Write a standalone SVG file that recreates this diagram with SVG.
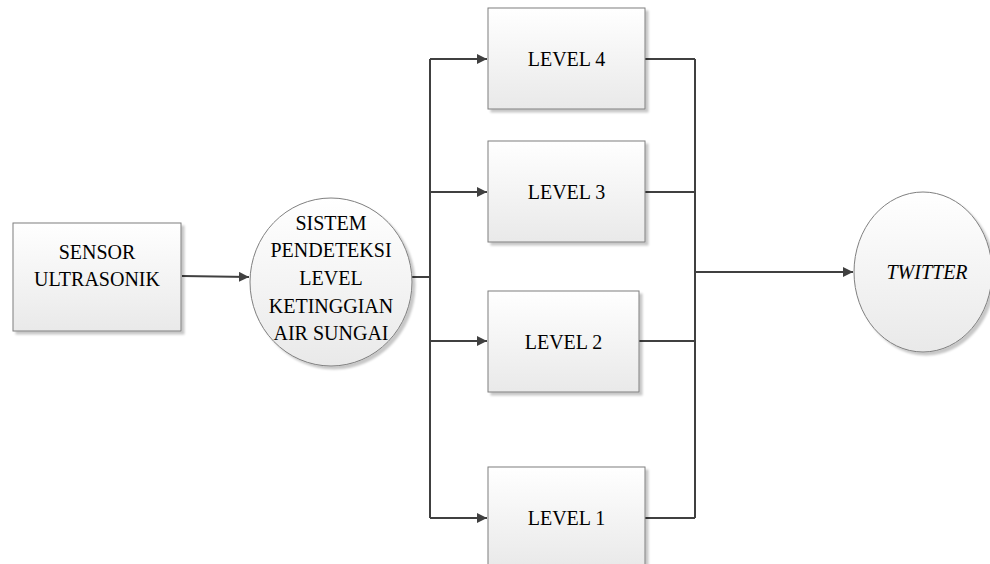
<svg xmlns="http://www.w3.org/2000/svg" width="990" height="564" viewBox="0 0 990 564">
<style>
.box{stroke:#7f7f7f;stroke-width:1;fill:url(#g);filter:url(#sh)}
.t{font-family:"Liberation Serif","Times New Roman",serif;font-size:20px;fill:#000;text-anchor:middle}
.c{fill:none;stroke:#404040;stroke-width:2}
</style>
<defs>
<linearGradient id="g" x1="0" y1="0" x2="0" y2="1">
<stop offset="0" stop-color="#ffffff"/>
<stop offset="1" stop-color="#e9e9e9"/>
</linearGradient>
<filter id="sh" x="-10%" y="-10%" width="130%" height="130%">
<feDropShadow dx="3" dy="3" stdDeviation="1.2" flood-color="#000" flood-opacity="0.22"/>
</filter>
<marker id="ah" viewBox="0 0 10 10" refX="10" refY="5" markerWidth="10" markerHeight="10" markerUnits="userSpaceOnUse" orient="auto">
<path d="M0,0 L10,5 L0,10 z" fill="#404040"/>
</marker>
</defs>
<g id="connectors">
<path class="c" d="M182,276 L249,277" marker-end="url(#ah)"/>
<path class="c" d="M412,277 L430,277"/>
<path class="c" d="M430,59 L430,518"/>
<path class="c" d="M430,59 L487,59" marker-end="url(#ah)"/>
<path class="c" d="M430,192 L487,192" marker-end="url(#ah)"/>
<path class="c" d="M430,341 L487,341" marker-end="url(#ah)"/>
<path class="c" d="M430,518 L487,518" marker-end="url(#ah)"/>
<path class="c" d="M645,59 L695,59"/>
<path class="c" d="M645,192 L695,192"/>
<path class="c" d="M639,341 L695,341"/>
<path class="c" d="M645,518 L695,518"/>
<path class="c" d="M695,59 L695,518"/>
<path class="c" d="M695,272 L853,272" marker-end="url(#ah)"/>
</g>
<g id="sensor">
<rect class="box" x="13" y="223" width="168" height="108"/>
<text class="t" x="97" y="259">SENSOR</text>
<text class="t" x="97" y="285.5">ULTRASONIK</text>
</g>
<g id="sistem">
<ellipse class="box" cx="331" cy="282" rx="81" ry="84"/>
<text class="t" x="331" y="230">SISTEM</text>
<text class="t" x="331" y="257">PENDETEKSI</text>
<text class="t" x="331" y="285">LEVEL</text>
<text class="t" x="331" y="312.5">KETINGGIAN</text>
<text class="t" x="331" y="340">AIR SUNGAI</text>
</g>
<g id="level4">
<rect class="box" x="488" y="8" width="157" height="101"/>
<text class="t" x="566.5" y="66">LEVEL 4</text>
</g>
<g id="level3">
<rect class="box" x="488" y="141" width="157" height="101"/>
<text class="t" x="566.5" y="199">LEVEL 3</text>
</g>
<g id="level2">
<rect class="box" x="488" y="291" width="151" height="101"/>
<text class="t" x="563.5" y="348.5">LEVEL 2</text>
</g>
<g id="level1">
<rect class="box" x="488" y="467" width="157" height="101"/>
<text class="t" x="566.5" y="525">LEVEL 1</text>
</g>
<g id="twitter">
<ellipse class="box" cx="923" cy="272" rx="69" ry="80"/>
<text class="t" x="927" y="279" font-style="italic">TWITTER</text>
</g>
</svg>
